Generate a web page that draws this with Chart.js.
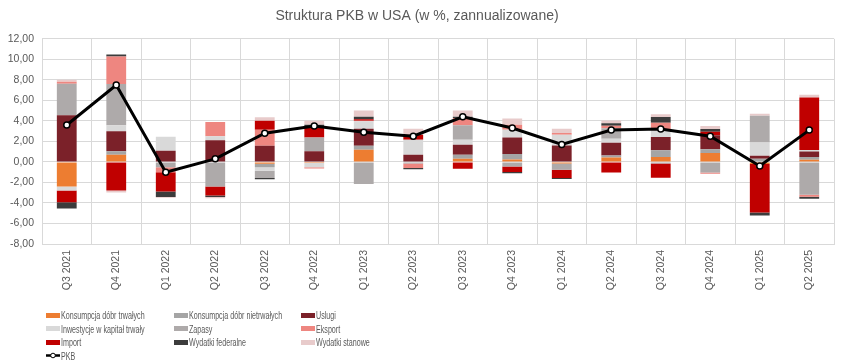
<!DOCTYPE html>
<html lang="pl">
<head>
    <meta charset="UTF-8">
    <title>Struktura PKB w USA</title>
    <script src="https://cdn.jsdelivr.net/npm/chart.js"></script>
    <style>
        body { margin: 0; background: #fff; }
        #wrap { position: relative; width: 845px; height: 363px; }
        .item {
            position: absolute;
            height: 12px;
            display: flex;
            align-items: center;
            white-space: nowrap;
        }
        .txt {
            font-family: "Liberation Sans", Arial, sans-serif;
            font-size: 11.5px;
            line-height: 12px;
            color: #595959;
            transform: scaleX(0.62);
            transform-origin: left center;
        }
        .box { width: 14px; height: 5px; margin-right: 1px; flex: none; }
        .pkb { width: 14px; height: 7px; margin-right: 1px; flex: none; }
    </style>
</head>
<body>
<div id="wrap">
    <canvas id="chart" width="845" height="363"></canvas>
    <div id="legend"></div>
</div>

<script>
    const labels = ["Q3 2021", "Q4 2021", "Q1 2022", "Q2 2022", "Q3 2022", "Q4 2022", "Q1 2023", "Q2 2023",
                    "Q3 2023", "Q4 2023", "Q1 2024", "Q2 2024", "Q3 2024", "Q4 2024", "Q1 2025", "Q2 2025"];

    const trwale     = [-2.39, 0.70, 0.00, 0.05, -0.17, -0.10, 1.19, 0.00, 0.31, 0.24, -0.16, 0.42, 0.49, 0.88, -0.20, 0.20];
    const nietrwale  = [0.00, 0.33, 0.00, 0.00, -0.36, 0.05, 0.39, 0.05, 0.39, 0.53, 0.00, 0.20, 0.65, 0.36, 0.30, 0.27];
    const uslugi     = [4.54, 1.95, 1.10, 2.07, 1.58, 0.98, 1.66, 0.65, 0.98, 1.62, 1.61, 1.26, 1.30, 1.37, 0.30, 0.55];
    const inwestycje = [-0.39, 0.59, 1.36, 0.39, -0.33, -0.43, 0.72, 1.47, 0.49, 0.75, 1.05, 0.37, 0.65, -0.05, 1.30, 0.13];
    const zapasy     = [3.07, 4.03, -0.53, -2.39, -0.71, 1.36, -2.16, -0.15, 1.40, -0.44, -0.60, 1.03, -0.15, -0.97, 2.60, -3.20];
    const eksport    = [0.20, 2.67, -0.47, 1.37, 1.56, -0.10, 0.05, -0.45, 0.71, 0.49, 0.16, 0.24, 0.72, -0.13, 0.00, -0.20];
    const importy    = [-1.14, -2.78, -1.88, -0.88, 0.88, 0.91, 0.14, 0.49, -0.66, -0.55, -0.81, -1.02, -1.40, 0.32, -4.73, 5.14];
    const federalne  = [-0.62, 0.20, -0.55, -0.16, -0.13, 0.33, 0.26, -0.12, 0.13, -0.11, -0.10, 0.26, 0.58, 0.29, -0.29, -0.20];
    const stanowe    = [0.20, -0.20, -0.07, -0.10, 0.33, 0.39, 0.59, 0.58, 0.59, 0.59, 0.42, 0.25, 0.26, 0.27, 0.20, 0.26];
    const pkb        = [3.6, 7.5, -1.0, 0.3, 2.8, 3.5, 2.9, 2.5, 4.4, 3.3, 1.7, 3.1, 3.2, 2.5, -0.4, 3.1];

    const series = [
        { label: "Konsumpcja dóbr trwałych", data: trwale, color: "#ED7D31" },
        { label: "Konsumpcja dóbr nietrwałych", data: nietrwale, color: "#A5A5A5" },
        { label: "Uslugi", data: uslugi, color: "#7B2129" },
        { label: "Inwestycje w kapitał trwały", data: inwestycje, color: "#D9D9D9" },
        { label: "Zapasy", data: zapasy, color: "#AEAAAA" },
        { label: "Eksport", data: eksport, color: "#EE8680" },
        { label: "Import", data: importy, color: "#C00000" },
        { label: "Wydatki federalne", data: federalne, color: "#3C3C3C" },
        { label: "Wydatki stanowe", data: stanowe, color: "#E8CBCB" }
    ];

    let datasets = series.map(s => ({
        type: "bar",
        label: s.label,
        data: s.data,
        backgroundColor: s.color,
        stack: "s",
        order: 1,
        barPercentage: 0.4,
        categoryPercentage: 1.0
    }));
    datasets.push({
        type: "line",
        label: "PKB",
        data: pkb,
        stack: "pkb",
        order: 0,
        borderColor: "#000",
        borderWidth: 3,
        pointRadius: 3,
        pointBackgroundColor: "#fff",
        pointBorderColor: "#000",
        pointBorderWidth: 1.5,
        tension: 0
    });

    const tickFont = { family: "Liberation Sans", size: 10.5 };

    new Chart(document.getElementById("chart").getContext("2d"), {
        type: "bar",
        data: { labels: labels, datasets: datasets },
        options: {
            responsive: false,
            animation: false,
            devicePixelRatio: 1,
            layout: { padding: { left: 0, right: 11, bottom: 69 } },
            plugins: {
                legend: { display: false },
                tooltip: { enabled: false },
                title: {
                    display: true,
                    text: "Struktura PKB w USA (w %, zannualizowane)",
                    color: "#595959",
                    font: { family: "Liberation Sans", size: 14, weight: "normal" },
                    padding: { top: 8, bottom: 14 }
                }
            },
            scales: {
                x: {
                    stacked: true,
                    grid: { color: "#D9D9D9", offset: true, drawTicks: false },
                    border: { color: "#D9D9D9" },
                    ticks: { color: "#595959", font: tickFont, minRotation: 90, maxRotation: 90, padding: 6 },
                    afterFit: s => { s.height = 50; }
                },
                y: {
                    stacked: true,
                    min: -8,
                    max: 12,
                    grid: { color: "#D9D9D9", drawTicks: false },
                    border: { color: "#D9D9D9" },
                    ticks: {
                        stepSize: 2,
                        color: "#595959",
                        font: tickFont,
                        padding: 8,
                        callback: v => v.toFixed(2).replace(".", ",")
                    },
                    afterFit: s => { s.width = 42; }
                }
            }
        }
    });

    // legend in the Excel grid layout
    const cols = [46, 174, 301];
    const rows = [315, 328.5, 342, 355.5];
    let html = "";
    series.forEach((s, i) => {
        let x = cols[i % 3], y = rows[Math.floor(i / 3)];
        html += '<div class="item" style="left:' + x + 'px;top:' + (y - 6) + 'px">' +
                '<span class="box" style="background:' + s.color + '"></span><span class="txt">' + s.label + '</span></div>';
    });
    html += '<div class="item" style="left:' + cols[0] + 'px;top:' + (rows[3] - 6) + 'px">' +
            '<svg class="pkb" viewBox="0 0 14 7"><line x1="0" y1="3.5" x2="14" y2="3.5" stroke="#000" stroke-width="2.5"/>' +
            '<circle cx="7" cy="3.5" r="2.3" fill="#fff" stroke="#000" stroke-width="1"/></svg><span class="txt">PKB</span></div>';
    document.getElementById("legend").innerHTML = html;
</script>
</body>
</html>
